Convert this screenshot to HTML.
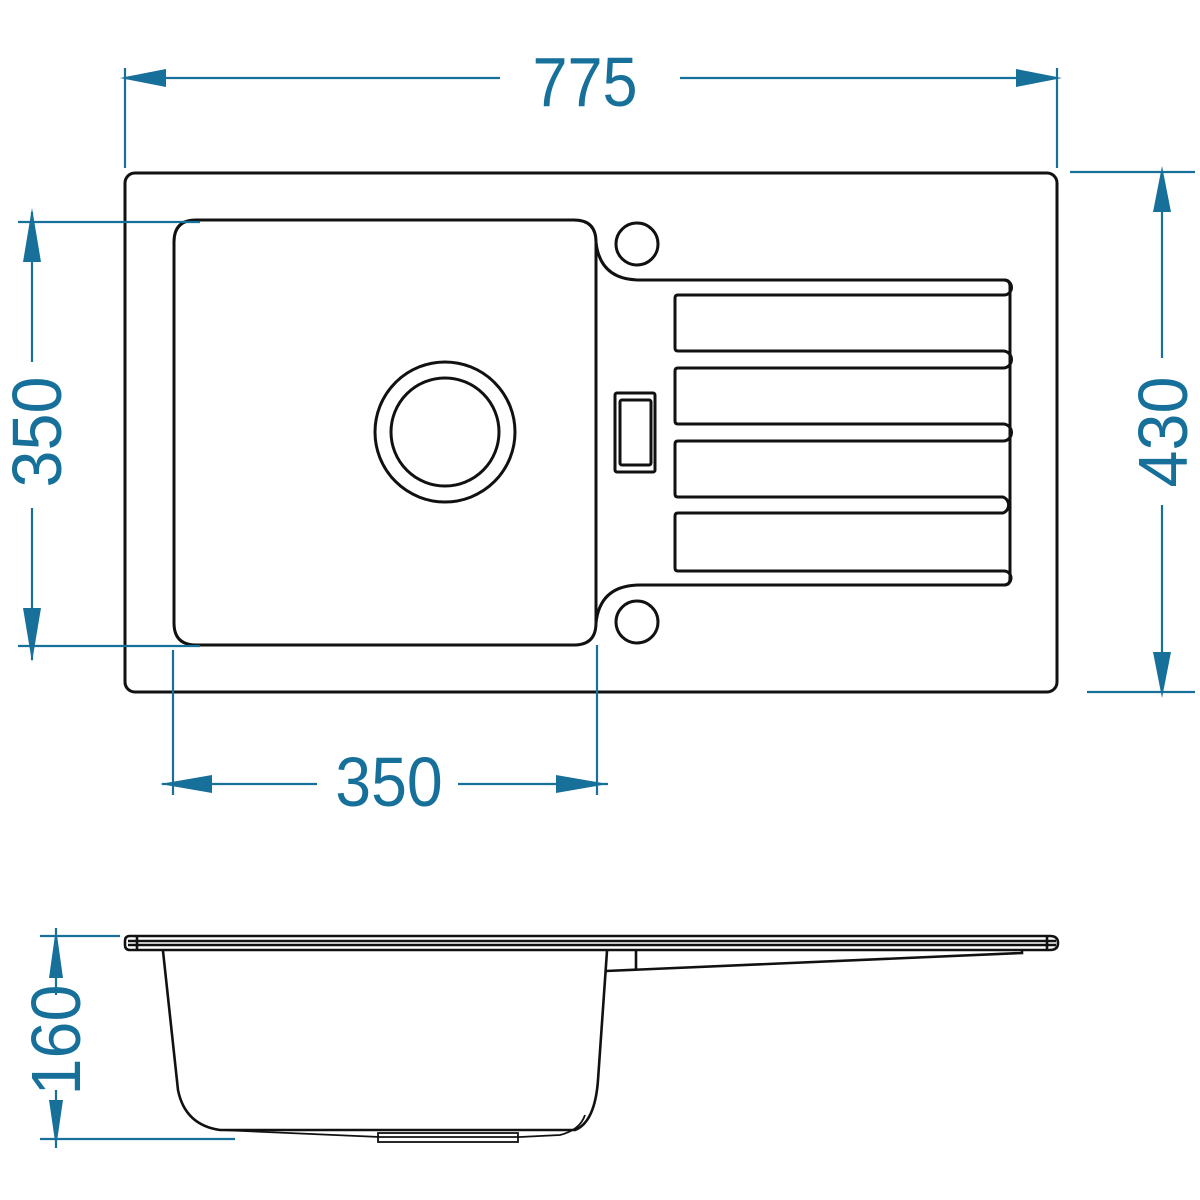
<!DOCTYPE html>
<html><head><meta charset="utf-8"><style>
html,body{margin:0;padding:0;background:#fff;}
svg{display:block}
text{font-family:"Liberation Sans",sans-serif;fill:#16709a;font-size:70px;}
</style></head><body>
<svg width="1200" height="1200" viewBox="0 0 1200 1200" xmlns="http://www.w3.org/2000/svg">
<rect width="1200" height="1200" fill="#fff"/>
<g fill="none" stroke="#111" stroke-width="3">
  <rect x="125" y="173" width="932" height="519" rx="10"/>
  <path d="M196 220 H574 Q596 220 596 242 V623 Q596 645 574 645 H196 Q174 645 174 623 V242 Q174 220 196 220 Z"/>
  <circle cx="445" cy="432" r="70"/>
  <circle cx="445" cy="432" r="54"/>
  <circle cx="637" cy="244" r="21"/>
  <circle cx="637" cy="622" r="21"/>
  <path d="M596 242 Q600 280 640 280 H1004 Q1010 280 1010 286 V579 Q1010 585 1004 585 H640 Q600 585 596 623"/>
  <rect x="615" y="393" width="40" height="79" rx="2"/>
  <rect x="620" y="400" width="31" height="65" rx="2"/>
  <path d="M1004 295 H678 Q675 295 675 298 V348 Q675 351 678 351 H1003 A8.5 8.5 0 0 1 1003 368 H678 Q675 368 675 371 V421 Q675 424 678 424 H1003 A8.5 8.5 0 0 1 1003 441 H678 Q675 441 675 444 V494 Q675 497 678 497 H1003 A8.5 8.5 0 0 1 1003 513 H678 Q675 513 675 516 V568 Q675 571 678 571 H1004"/>
  <path d="M1004 280 A7.5 7.5 0 0 1 1004 295"/>
  <path d="M1004 571 A7 7 0 0 1 1004 585"/>
</g>
<!-- side view -->
<g fill="none" stroke="#111" stroke-width="2.6">
  <path d="M130 936 H1050 Q1058 936 1058 943 Q1058 950 1050 950 H130 Q125 950 125 945 V941 Q125 936 130 936 Z"/>
  <path d="M128 941 H1056 M128 945 H1056 M137 936 V950 M1047 936 V950"/>
  <path d="M163 951 L178 1090 Q185 1125 220 1130 L575 1130 Q595 1122 598 1080 L607 951"/>
  <path d="M220 1130 L380 1137 H520 L560 1135 Q580 1130 585 1115" stroke-width="1.8"/>
  <rect x="378" y="1133" width="140" height="9" stroke-width="1.8"/>
  <path d="M606 971 L1022 953 V950 M636 951 V970"/>
</g>
<!-- dimensions -->
<g stroke="#16709a" stroke-width="2.2" fill="none">
  <path d="M125 68 V168 M1057 68 V168 M125 78 H500 M680 78 H1057"/>
  <path d="M1070 172 H1195 M1087 692 H1195 M1162 172 V358 M1162 505 V692"/>
  <path d="M18 222 H200 M18 646 H200 M32 212 V362 M32 508 V660"/>
  <path d="M173 650 V795 M597 645 V795 M162 784 H317 M458 784 H608"/>
  <path d="M40 936 H120 M40 1139 H235 M56 928 V995 M56 1090 V1148"/>
</g>
<g fill="#16709a">
  <polygon points="120,78 166,69 166,87"/>
  <polygon points="1062,78 1016,69 1016,87"/>
  <polygon points="1162,166 1153,212 1171,212"/>
  <polygon points="1162,698 1153,652 1171,652"/>
  <polygon points="32,208 23,262 41,262"/>
  <polygon points="32,662 23,608 41,608"/>
  <polygon points="160,784 212,775 212,793"/>
  <polygon points="608,784 556,775 556,793"/>
  <polygon points="56,928 49,978 63,978"/>
  <polygon points="56,1148 49,1100 63,1100"/>
</g>
<text x="585" y="106" text-anchor="middle" transform="translate(585 0) scale(0.9 1) translate(-585 0)">775</text>
<text x="389" y="806" text-anchor="middle" transform="translate(389 0) scale(0.92 1) translate(-389 0)">350</text>
<text transform="translate(61 432) rotate(-90) scale(0.95 1)" text-anchor="middle" x="0" y="0">350</text>
<text transform="translate(1187 432) rotate(-90) scale(0.95 1)" text-anchor="middle" x="0" y="0">430</text>
<text transform="translate(80 1040) rotate(-90) scale(0.95 1)" text-anchor="middle" x="0" y="0">160</text>
</svg>
</body></html>
